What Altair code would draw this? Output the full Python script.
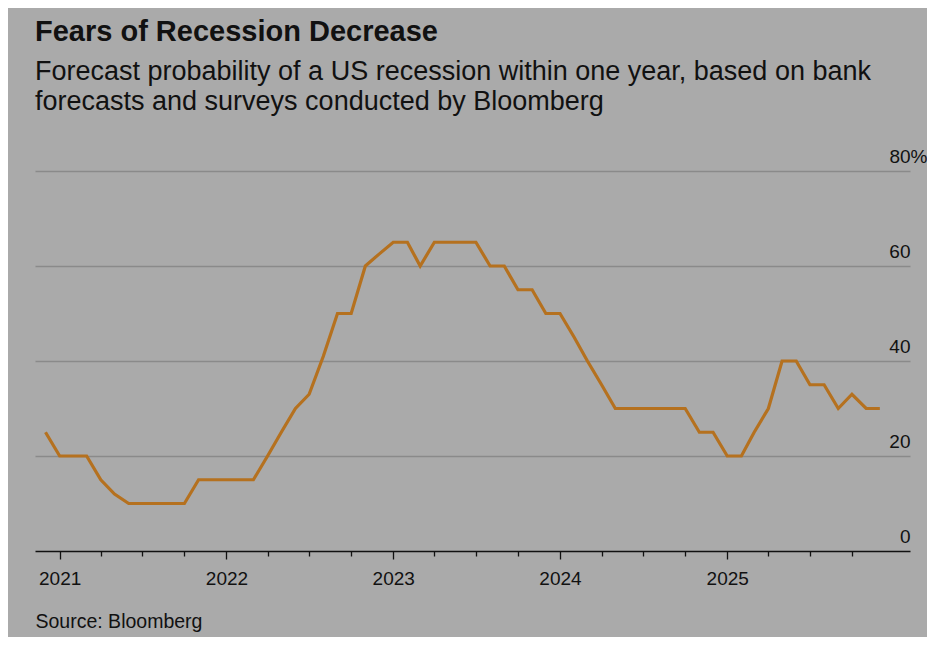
import altair as alt
import pandas as pd

# Monthly observations (first of month), Dec 2020 - Dec 2025
dates = (
    ["2020-12-01"]
    + [f"2021-{m:02d}-01" for m in range(1, 13)]
    + [f"2022-{m:02d}-01" for m in range(1, 13)]
    + [f"2023-{m:02d}-01" for m in range(1, 13)]
    + [f"2024-{m:02d}-01" for m in range(1, 13)]
    + [f"2025-{m:02d}-01" for m in range(1, 13)]
)

prob_2020 = [25]
prob_2021 = [20, 20, 20, 15, 12, 10, 10, 10, 10, 10, 15, 15]
prob_2022 = [15, 15, 15, 20, 25, 30, 33, 41, 50, 50, 60, 62.5]
prob_2023 = [65, 65, 60, 65, 65, 65, 65, 60, 60, 55, 55, 50]
prob_2024 = [50, 45, 40, 35, 30, 30, 30, 30, 30, 30, 25, 25]
prob_2025 = [20, 20, 25, 30, 40, 40, 35, 35, 30, 33, 30, 30]

probability = prob_2020 + prob_2021 + prob_2022 + prob_2023 + prob_2024 + prob_2025

y_ticks = [0, 20, 40, 60, 80]
tick_years = [2021, 2022, 2023, 2024, 2025]
tick_months = [1, 4, 7, 10]

df = pd.DataFrame({"date": dates, "probability": probability})

x_ticks = [alt.DateTime(year=y, month=m, date=1, utc=True) for y in tick_years for m in tick_months]

FONT = "Liberation Sans"
INK = "#111111"

x_enc = alt.X(
    "date:T",
    scale=alt.Scale(
        type="utc",
        domain=[
            alt.DateTime(year=2020, month=11, date=8, utc=True),
            alt.DateTime(year=2026, month=2, date=5, utc=True),
        ],
    ),
    axis=alt.Axis(
        values=x_ticks,
        labelExpr="utcmonth(datum.value) === 0 ? utcFormat(datum.value, '%Y') : ''",
        labelOverlap=False,
        labelFlush=False,
        tickSize={"condition": {"test": "utcmonth(datum.value) === 0", "value": 8}, "value": 5},
        tickColor=INK,
        tickWidth=1.3,
        domainColor=INK,
        domainWidth=1.5,
        grid=False,
        labelFontSize=19,
        labelFont=FONT,
        labelPadding=10,
        labelColor=INK,
        title="Source: Bloomberg",
        titleAnchor="start",
        titleAlign="left",
        titleFontWeight="normal",
        titleFont=FONT,
        titleFontSize=19.5,
        titlePadding=24,
        titleColor=INK,
    ),
)

y_enc = alt.Y(
    "probability:Q",
    scale=alt.Scale(domain=[0, 80]),
    axis=alt.Axis(
        orient="right",
        values=y_ticks,
        labelExpr="datum.value === 80 ? '80%' : datum.label",
        domain=False,
        ticks=False,
        labelAlign="right",
        labelBaseline="alphabetic",
        labelOffset=-9,
        labelPadding={"condition": {"test": "datum.value === 80", "value": 17}, "value": 0},
        gridColor="#8a8a8a",
        gridWidth=1.5,
        gridOpacity={"condition": {"test": "datum.value === 0", "value": 0}, "value": 1},
        labelFontSize=19,
        labelFont=FONT,
        labelColor=INK,
        title=None,
    ),
)

chart = (
    alt.Chart(df)
    .mark_line(color="#b5711f", strokeWidth=3.2)
    .encode(x=x_enc, y=y_enc)
    .properties(
        width=875,
        height=380,
        padding={"left": 27, "top": 10, "right": 0, "bottom": 6},
        title=alt.TitleParams(
            text="Fears of Recession Decrease",
            subtitle=[
                "Forecast probability of a US recession within one year, based on bank",
                "forecasts and surveys conducted by Bloomberg",
            ],
            anchor="start",
            frame="group",
            font=FONT,
            fontSize=29,
            fontWeight="bold",
            color=INK,
            subtitleFont=FONT,
            subtitleFontSize=27,
            subtitleColor=INK,
            subtitleLineHeight=30,
            subtitlePadding=12,
            offset=32,
        ),
    )
    .configure(background="#aaaaaa")
    .configure_view(stroke=None)
)

chart.save("out.html", embed_options={"renderer": "svg", "actions": False})
